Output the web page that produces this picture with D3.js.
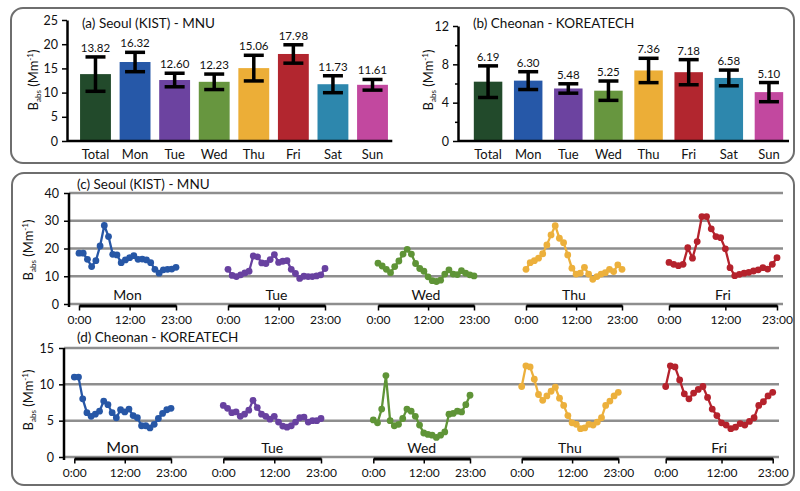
<!DOCTYPE html>
<html lang="en">
<head>
<meta charset="UTF-8">
<title>Absorption coefficient by day of week</title>
<script src="https://d3js.org/d3.v7.min.js"></script>
<style>
  html, body { margin: 0; padding: 0; background: #fff; overflow: hidden; }
  svg { display: block; font-family: Lato, "Open Sans", sans-serif; }
</style>
</head>
<body>
<svg width="800" height="491"></svg>
<script>
  // bar panels (a) and (b)
  const days = ["Total", "Mon", "Tue", "Wed", "Thu", "Fri", "Sat", "Sun"];
  const dayColors = ["#224a2b", "#2658a8", "#6c43a0", "#67963f", "#ecae37", "#b2262f", "#2d87ad", "#c2489f"];
  const seoulMean = [13.82, 16.32, 12.60, 12.23, 15.06, 17.98, 11.73, 11.61];
  const seoulErr = [3.55, 2.0, 1.4, 1.6, 2.65, 1.9, 1.75, 1.1];
  const cheonanMean = [6.19, 6.30, 5.48, 5.25, 7.36, 7.18, 6.58, 5.10];
  const cheonanErr = [1.65, 0.93, 0.49, 1.01, 1.27, 1.31, 0.82, 1.0];

  // hourly panels (c) and (d), 0:00 .. 23:00
  const weekdays = ["Mon", "Tue", "Wed", "Thu", "Fri"];
  const lineColors = ["#2757a6", "#6841a0", "#5f9437", "#ecb03c", "#b5222c"];
  const hourTicks = [0, 12, 23];

  const seoulMon = [18.3, 18.3, 16.1, 13.5, 15.6, 20.9, 28.3, 24.3, 17.9, 17.7, 14.9, 15.9, 16.7, 17.4, 16.1, 16.2, 15.9, 14.9, 12.5, 11.1, 12.3, 12.5, 12.6, 13.2];
  const seoulTue = [12.5, 10.3, 9.9, 10.5, 11.2, 11.8, 17.3, 17.0, 14.8, 14.6, 16.0, 17.8, 15.0, 15.4, 15.6, 12.5, 11.0, 9.2, 10.0, 9.9, 9.9, 10.1, 10.5, 12.8];
  const seoulWed = [14.7, 13.7, 12.5, 11.3, 13.5, 15.5, 18.0, 19.7, 18.0, 14.6, 12.8, 11.8, 9.8, 8.4, 8.1, 8.6, 10.8, 12.3, 10.8, 10.6, 12.0, 11.1, 10.5, 10.1];
  const seoulThu = [12.5, 14.9, 15.6, 16.5, 18.1, 21.3, 24.9, 28.2, 23.7, 22.1, 17.7, 12.9, 10.8, 11.1, 13.2, 10.8, 8.9, 9.9, 10.8, 11.3, 12.5, 11.7, 14.1, 12.5];
  const seoulFri = [15.0, 14.3, 13.8, 14.3, 20.3, 16.5, 22.5, 31.5, 31.5, 27.1, 24.3, 23.9, 19.9, 13.1, 10.2, 10.7, 11.1, 11.4, 11.9, 12.3, 13.1, 12.6, 14.3, 16.7];

  const cheonanMon = [11.0, 11.0, 8.0, 6.1, 5.6, 5.9, 6.3, 7.7, 7.2, 6.1, 5.4, 6.5, 6.2, 6.6, 5.7, 5.4, 4.3, 4.3, 4.0, 4.5, 5.3, 6.0, 6.5, 6.7];
  const cheonanTue = [7.1, 6.7, 6.1, 6.2, 5.6, 5.9, 6.45, 7.8, 6.8, 5.9, 5.6, 5.2, 5.6, 4.8, 4.25, 4.1, 4.3, 4.8, 5.4, 5.5, 4.8, 5.0, 5.0, 5.3];
  const cheonanWed = [5.1, 4.7, 6.6, 11.2, 5.0, 4.3, 4.5, 5.3, 6.6, 6.3, 5.6, 4.4, 3.3, 3.1, 3.0, 2.7, 3.0, 3.45, 5.9, 6.0, 6.3, 6.2, 7.2, 8.5];
  const cheonanThu = [9.7, 12.55, 12.4, 10.7, 8.6, 7.8, 8.4, 9.05, 9.6, 8.1, 7.1, 5.7, 4.7, 4.5, 3.9, 4.0, 4.5, 4.4, 4.8, 5.4, 7.1, 7.7, 8.4, 8.9];
  const cheonanFri = [9.7, 12.55, 12.4, 10.6, 8.7, 8.0, 8.8, 9.3, 9.7, 8.2, 6.6, 5.7, 4.7, 4.4, 3.9, 4.1, 4.6, 4.4, 4.9, 5.4, 7.1, 7.6, 8.4, 8.9];

  const svg = d3.select("svg");

  // frames
  svg.append("rect").attr("x", 11).attr("y", 8).attr("width", 783).attr("height", 155)
    .attr("rx", 12).attr("fill", "none").attr("stroke", "#6e6e6e").attr("stroke-width", 2);
  svg.append("rect").attr("x", 12).attr("y", 173).attr("width", 782).attr("height", 312)
    .attr("rx", 12).attr("fill", "none").attr("stroke", "#6e6e6e").attr("stroke-width", 2);

  function yLabel(x, y) {
    const t = svg.append("text")
      .attr("transform", `translate(${x},${y}) rotate(-90)`)
      .attr("text-anchor", "middle")
      .attr("font-size", 13)
      .attr("fill", "#111");
    t.append("tspan").text("B");
    t.append("tspan").attr("font-size", 8).attr("dy", 3).text("abs");
    t.append("tspan").attr("dy", -3).text(" (Mm");
    t.append("tspan").attr("font-size", 8).attr("dy", -5).text("-1");
    t.append("tspan").attr("dy", 5).text(")");
  }

  function styleAxis(g) {
    g.select(".domain").attr("stroke", "#000").attr("stroke-width", 2.5);
    g.selectAll(".tick line").attr("stroke", "#000").attr("stroke-width", 1.5);
    g.selectAll(".tick text").attr("fill", "#111").attr("font-family", "Lato, 'Open Sans', sans-serif");
  }

  function barPanel(means, errs, y, x, ticks, labelEvery, axisX, title, titleX) {
    const yAxis = d3.axisLeft(y)
      .tickValues(ticks)
      .tickSize(5)
      .tickSizeOuter(0)
      .tickPadding(4)
      .tickFormat(d => d % labelEvery === 0 ? d : "");
    const ga = svg.append("g").attr("transform", `translate(${axisX},0)`).call(yAxis);
    styleAxis(ga);
    ga.selectAll(".tick text").attr("font-size", 12.5);
    ga.selectAll(".tick").filter(d => d % labelEvery !== 0).select("line").attr("x2", -3);

    svg.append("g")
      .selectAll("rect")
      .data(means)
      .join("rect")
      .attr("x", (d, i) => x(days[i]))
      .attr("y", d => y(d))
      .attr("width", x.bandwidth())
      .attr("height", d => y(0) - y(d))
      .attr("fill", (d, i) => dayColors[i]);

    svg.append("line")
      .attr("x1", axisX).attr("x2", x.range()[1])
      .attr("y1", y(0)).attr("y2", y(0))
      .attr("stroke", "#000").attr("stroke-width", 2.5);

    const eb = svg.append("g").attr("stroke", "#000").attr("stroke-width", 3.5);
    means.forEach((m, i) => {
      const cx = x(days[i]) + x.bandwidth() / 2;
      const lo = y(m - errs[i]), hi = y(m + errs[i]);
      eb.append("line").attr("x1", cx).attr("x2", cx).attr("y1", lo).attr("y2", hi);
      eb.append("line").attr("x1", cx - 10).attr("x2", cx + 10).attr("y1", lo).attr("y2", lo);
      eb.append("line").attr("x1", cx - 10).attr("x2", cx + 10).attr("y1", hi).attr("y2", hi);
    });

    svg.append("g")
      .selectAll("text")
      .data(means)
      .join("text")
      .attr("x", (d, i) => x(days[i]) + x.bandwidth() / 2)
      .attr("y", (d, i) => y(d + errs[i]) - 5)
      .attr("text-anchor", "middle")
      .attr("font-size", 11.5)
      .attr("fill", "#111")
      .text(d => d.toFixed(2));

    svg.append("g")
      .selectAll("text")
      .data(days)
      .join("text")
      .attr("x", d => x(d) + x.bandwidth() / 2)
      .attr("y", 159)
      .attr("text-anchor", "middle")
      .attr("font-size", 13)
      .attr("fill", "#111")
      .text(d => d);

    svg.append("text")
      .attr("x", titleX).attr("y", 28)
      .attr("font-size", 13.5)
      .attr("fill", "#111")
      .text(title);
  }

  const yA = d3.scaleLinear().domain([0, 25]).range([141, 20]);
  const xA = d3.scaleBand().domain(days).range([75.7, 392.3]).paddingInner(0.22).paddingOuter(0.11);
  barPanel(seoulMean, seoulErr, yA, xA, d3.range(0, 26, 5), 5, 67, "(a) Seoul (KIST) - MNU", 82);
  yLabel(38, 80);

  const yB = d3.scaleLinear().domain([0, 12]).range([141, 26]);
  const xB = d3.scaleBand().domain(days).range([468, 789]).paddingInner(0.29).paddingOuter(0.145);
  barPanel(cheonanMean, cheonanErr, yB, xB, d3.range(0, 13, 2), 4, 458, "(b) Cheonan - KOREATECH", 473);
  yLabel(433, 80);

  function linePanel(series, y, ticks, axisX, gridEnd, dayRanges, title, titleY, dayFont) {
    const y0 = y(0);
    svg.append("g")
      .selectAll("line")
      .data(ticks)
      .join("line")
      .attr("x1", axisX).attr("x2", gridEnd)
      .attr("y1", d => y(d)).attr("y2", d => y(d))
      .attr("stroke", "#8e8e8e").attr("stroke-width", 2.5);

    const ga = svg.append("g").attr("transform", `translate(${axisX},0)`)
      .call(d3.axisLeft(y).tickValues(ticks).tickSize(5).tickSizeOuter(0).tickPadding(5));
    styleAxis(ga);
    ga.select(".domain").attr("d", `M0,${y(ticks[ticks.length - 1])}V${y0 + 3}`);
    ga.selectAll(".tick text").attr("font-size", 12.5);

    series.forEach((vals, i) => {
      const xs = d3.scaleLinear().domain([0, 23]).range(dayRanges[i]);
      const gx = svg.append("g").attr("transform", `translate(0,${y0 + 1.5})`)
        .call(d3.axisBottom(xs).tickValues(hourTicks).tickSize(5).tickSizeOuter(0).tickPadding(5)
          .tickFormat(d => d + ":00"));
      styleAxis(gx);
      gx.select(".domain").attr("stroke-width", 3);
      gx.selectAll(".tick text").attr("font-size", 12);

      svg.append("text")
        .attr("x", xs(11.5)).attr("y", y0 - 4)
        .attr("text-anchor", "middle")
        .attr("font-size", dayFont[i])
        .attr("fill", "#111")
        .text(weekdays[i]);

      svg.append("path")
        .datum(vals)
        .attr("fill", "none")
        .attr("stroke", lineColors[i])
        .attr("stroke-width", 2.3)
        .attr("d", d3.line().x((d, h) => xs(h)).y(d => y(d)));

      svg.append("g")
        .selectAll("circle")
        .data(vals)
        .join("circle")
        .attr("cx", (d, h) => xs(h))
        .attr("cy", d => y(d))
        .attr("r", 3.4)
        .attr("fill", lineColors[i]);
    });

    svg.append("text")
      .attr("x", 77).attr("y", titleY)
      .attr("font-size", 13.5)
      .attr("fill", "#111")
      .text(title);
  }

  const yC = d3.scaleLinear().domain([0, 40]).range([304, 193]);
  linePanel([seoulMon, seoulTue, seoulWed, seoulThu, seoulFri], yC, [0, 10, 20, 30, 40], 69, 783,
    [[79, 176], [228, 325], [378, 474], [526, 622], [669, 777]],
    "(c) Seoul (KIST) - MNU", 189, [14, 14, 14, 14, 14]);
  yLabel(33, 250);

  const yD = d3.scaleLinear().domain([0, 15]).range([457, 348]);
  linePanel([cheonanMon, cheonanTue, cheonanWed, cheonanThu, cheonanFri], yD, [0, 5, 10, 15], 64, 779,
    [[74.3, 171], [223.3, 321], [373.3, 470], [521.7, 618.3], [665.7, 772.7]],
    "(d) Cheonan - KOREATECH", 342, [16, 14, 14, 14, 14]);
  yLabel(33, 400);
</script>
</body>
</html>
